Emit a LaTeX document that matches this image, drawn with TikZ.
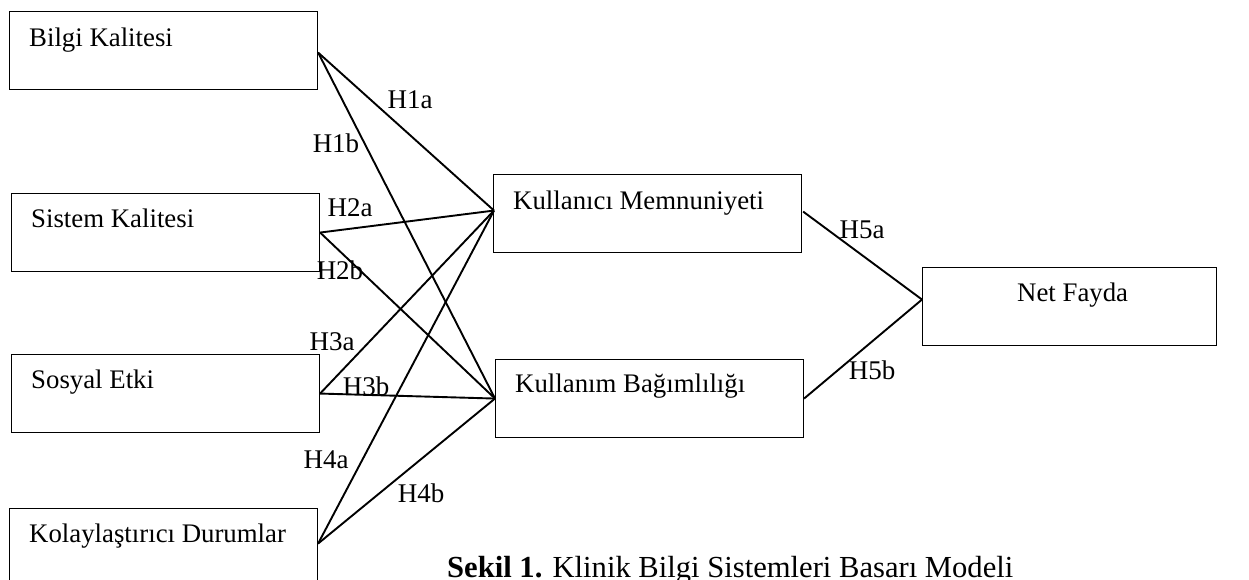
\documentclass[tikz,border=0pt]{standalone}
\usepackage{fontspec}
\setmainfont{Liberation Serif}
\usetikzlibrary{calc}
\begin{document}
\begin{tikzpicture}[x=1pt,y=-1pt,
  box/.style={draw, line width=1.1pt, minimum width=308pt, minimum height=78pt, inner sep=0pt, anchor=north west},
  boxtext/.style={anchor=base west, inner sep=0pt, font=\fontsize{26.8}{32}\selectfont},
  hyp/.style={inner sep=0pt, font=\fontsize{27}{32}\selectfont},
  link/.style={line width=1.9pt}]
\useasboundingbox (0,0) rectangle (1249,579);
\clip (0,0) rectangle (1249,579);
% boxes
\node[box] (bk) at (9,11) {};
\node[box] (sk) at (11,193) {};
\node[box] (se) at (11,354) {};
\node[box] (kd) at (9,508) {};
\node[box] (km) at (493,174) {};
\node[box] (kb) at (495,359) {};
\node[box, minimum width=294pt] (nf) at (922,267) {};
% box texts
\node[boxtext] (bkt) at ($(bk.north west)+(20,35)$) {Bilgi Kalitesi};
\node[boxtext] (skt) at ($(sk.north west)+(20,34)$) {Sistem Kalitesi};
\node[boxtext] (set) at ($(se.north west)+(20,34)$) {Sosyal Etki};
\node[boxtext] (kdt) at ($(kd.north west)+(20,34)$) {Kolaylaştırıcı Durumlar};
\node[boxtext] (kmt) at ($(km.north west)+(20,35)$) {Kullanıcı Memnuniyeti};
\node[boxtext] (kbt) at ($(kb.north west)+(20,33)$) {Kullanım Bağımlılığı};
\node[boxtext] (nft) at ($(nf.north west)+(95,34)$) {Net Fayda};
% connection points
\coordinate (kmin) at ($(km.west)+(1,-3)$);
\coordinate (kbin) at (kb.west);
\coordinate (nfin) at ($(nf.west)+(0,-7)$);
\coordinate (bkout) at ($(bk.east)+(0,2)$);
\coordinate (kdout) at ($(kd.east)+(0,-4)$);
% connectors
\draw[link] (bkout) -- (kmin);
\draw[link] (bkout) -- (kbin);
\draw[link] (sk.east) -- (kmin);
\draw[link] (sk.east) -- (kbin);
\draw[link] (se.east) -- (kmin);
\draw[link] (se.east) -- (kbin);
\draw[link] (kdout) -- (kmin);
\draw[link] (kdout) -- (kbin);
\draw[link] ($(km.east)+(1,-2)$) -- (nfin);
\draw[link] (kb.east) -- (nfin);
% hypothesis labels
\node[hyp] (h1a) at (410,100) {H1a};
\node[hyp] (h1b) at (336,143) {H1b};
\node[hyp] (h2a) at (350,208) {H2a};
\node[hyp] (h2b) at (340,270) {H2b};
\node[hyp] (h3a) at (332,342) {H3a};
\node[hyp] (h3b) at (366,386) {H3b};
\node[hyp] (h4a) at (326,460) {H4a};
\node[hyp] (h4b) at (421,493) {H4b};
\node[hyp] (h5a) at (862,230) {H5a};
\node[hyp] (h5b) at (872,370) {H5b};
% caption
\node[anchor=base west, inner sep=0pt, font=\fontsize{30.6}{36}\selectfont] (cap) at (447,577) {\textbf{Sekil 1.} Klinik Bilgi Sistemleri Basarı Modeli};
\end{tikzpicture}
\end{document}
